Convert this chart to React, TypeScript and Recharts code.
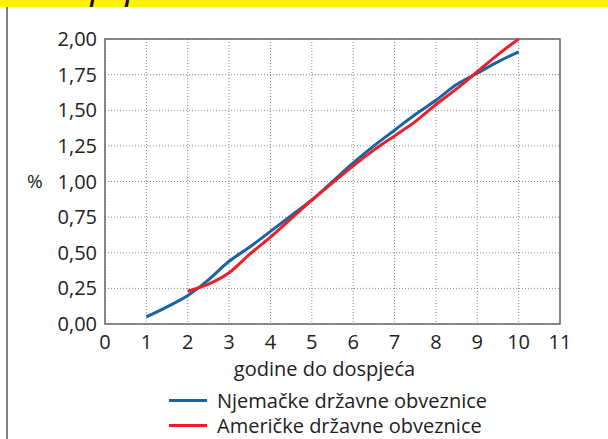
import React from "react";
import { LineChart, Line, XAxis, YAxis, CartesianGrid, Legend, ReferenceArea } from "recharts";

const FONT = "'Open Sans', sans-serif";

const maturities = [1, 1.5, 2, 2.5, 3, 3.5, 4, 4.5, 5, 5.5, 6, 6.5, 7, 7.5, 8, 8.5, 9, 9.5, 10];
const germanYields = [0.05, 0.12, 0.2, 0.31, 0.44, 0.54, 0.65, 0.76, 0.87, 1.0, 1.13, 1.25, 1.36, 1.47, 1.57, 1.68, 1.76, 1.84, 1.91];
const usYields = [null, null, 0.23, 0.28, 0.36, 0.49, 0.61, 0.74, 0.87, 0.99, 1.11, 1.22, 1.32, 1.42, 1.54, 1.65, 1.77, 1.89, 2.0];
const xTicks = [0, 1, 2, 3, 4, 5, 6, 7, 8, 9, 10, 11];
const yTicks = [0, 0.25, 0.5, 0.75, 1, 1.25, 1.5, 1.75, 2];

const SERIES = [
  { key: "de", name: "Njemačke državne obveznice", color: "#1a64a4" },
  { key: "us", name: "Američke državne obveznice", color: "#e8202a" },
];

const data = maturities.map((m, i) => ({ m, de: germanYields[i], us: usYields[i] }));

const fmt = (v: number) => v.toFixed(2).replace(".", ",");

function LegendBox() {
  return (
    <div style={{ fontFamily: FONT, fontSize: 20, color: "#222" }}>
      {SERIES.map((s) => (
        <div key={s.key} style={{ display: "flex", alignItems: "center", height: 25, paddingLeft: 169, lineHeight: "25px" }}>
          <span style={{ display: "inline-block", width: 38, height: 3, background: s.color, marginRight: 10 }} />
          <span>{s.name}</span>
        </div>
      ))}
    </div>
  );
}

export default function App() {
  return (
    <div style={{ position: "absolute", left: 0, top: 0, width: 608, height: 439, background: "#fff", overflow: "hidden" }}>
      <div style={{ position: "absolute", left: 0, top: 0, width: 608, height: 7, background: "#fff200", overflow: "hidden" }}>
        <span style={{ position: "absolute", left: 90, top: -44, fontFamily: FONT, fontStyle: "italic", fontSize: 40, letterSpacing: 12, color: "#111" }}>pp</span>
      </div>
      <div style={{ position: "absolute", left: 6, top: 7, width: 2, height: 432, background: "#808080" }} />
      <LineChart
        width={608}
        height={439}
        data={data}
        margin={{ top: 39, right: 48, bottom: 1, left: 0 }}
        style={{ position: "absolute", left: 0, top: 0 }}
      >
        <CartesianGrid stroke="#888" strokeDasharray="1 2" />
        <XAxis
          dataKey="m"
          type="number"
          domain={[0, 11]}
          ticks={xTicks}
          tickLine={false}
          axisLine={false}
          tickMargin={5}
          height={64}
          tick={{ fontFamily: FONT, fontSize: 20, fill: "#222" }}
          label={{ value: "godine do dospjeća", position: "insideBottom", offset: 12, dx: -8, style: { fontFamily: FONT, fontSize: 20, fill: "#222" } }}
        />
        <YAxis
          type="number"
          domain={[0, 2]}
          ticks={yTicks}
          tickFormatter={fmt}
          tickLine={false}
          axisLine={false}
          width={105}
          tick={{ fontFamily: FONT, fontSize: 20, fill: "#222" }}
          label={{ value: "%", position: "insideLeft", offset: 27, style: { fontFamily: FONT, fontSize: 19, fill: "#222" } }}
        />
        <ReferenceArea x1={0} x2={11} y1={0} y2={2} fill="none" stroke="#666" strokeWidth={1.5} ifOverflow="visible" />
        {SERIES.map((s) => (
          <Line
            key={s.key}
            dataKey={s.key}
            name={s.name}
            type="monotone"
            stroke={s.color}
            strokeWidth={3}
            dot={false}
            connectNulls={false}
            isAnimationActive={false}
          />
        ))}
        <Legend content={<LegendBox />} wrapperStyle={{ top: 388, left: 0, width: 608, height: 50 }} />
      </LineChart>
    </div>
  );
}
